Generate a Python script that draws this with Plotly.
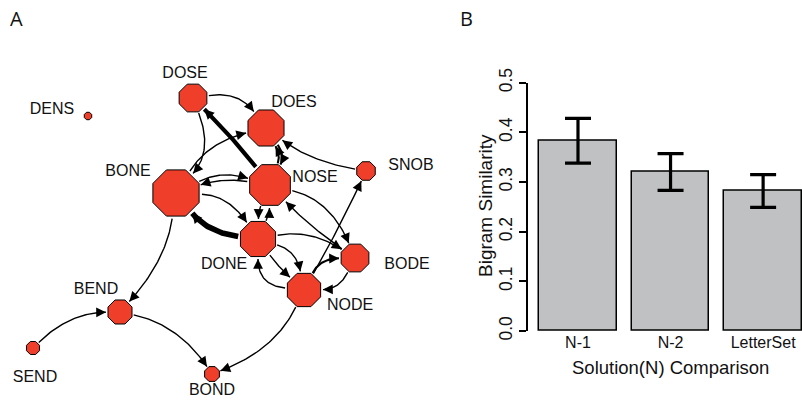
import numpy as np
import plotly.graph_objects as go

# ---------------- Panel A data: network ----------------
node_names = ["DENS", "DOSE", "DOES", "BONE", "NOSE", "SNOB",
              "DONE", "BODE", "NODE", "BEND", "SEND", "BOND"]
node_x = [88, 193, 266, 176, 270, 366, 258, 355, 304, 120, 33, 212]
node_y = [116, 98, 128, 193, 185, 171, 239, 258, 290, 312, 348, 374]
node_r = [4, 15, 19.5, 25, 22, 10, 19, 15, 18, 13, 7, 8]
label_x = [52, 185, 294, 128, 315, 411, 224, 407, 350, 96, 35, 212]
label_y = [110, 74, 103, 172, 178, 166, 265, 265, 306, 290, 378, 391]

edge_src = ["DOSE", "NOSE", "DOSE", "BONE", "BONE", "NOSE", "BONE", "DONE",
            "BONE", "SEND", "BEND", "NODE", "DOES", "NOSE", "SNOB", "NODE",
            "DONE", "NOSE", "NOSE", "BODE", "DONE", "DONE", "NODE", "NODE",
            "BODE", "DONE"]
edge_dst = ["DOES", "DOSE", "BONE", "DOES", "NOSE", "BONE", "DONE", "BONE",
            "BEND", "BEND", "BOND", "BOND", "NOSE", "DOES", "DOES", "SNOB",
            "NOSE", "DONE", "BODE", "NOSE", "BODE", "NODE", "DONE", "BODE",
            "NODE", "NODE"]
edge_curv = [-0.3, 0.03, -0.3, -0.2, -0.2, 0.12, -0.25, -0.2,
             -0.15, -0.2, -0.2, -0.2, -0.3, 0.22, -0.12, 0.02,
             0.1, 0.1, -0.25, -0.05, -0.2, -0.3, -0.45, -0.3,
             -0.3, 0.05]
edge_weight = [1, 3, 1, 1, 1, 1, 1, 4,
               1, 1, 1, 1, 1.5, 1.5, 1, 1,
               1, 1, 1, 1, 1, 1, 1, 1.5,
               1, 1]

# ---------------- Panel B data: bar chart ----------------
categories = ["N-1", "N-2", "LetterSet"]
similarity = [0.383, 0.320, 0.282]
sim_err = [0.045, 0.037, 0.033]

W, H = 802, 407
NODE_RED = "#ef3f2b"
TXT = "#111111"
fig = go.Figure()

idx = {n: i for i, n in enumerate(node_names)}
annotations = []
t = np.linspace(0, 1, 40)
for s, d, c, w in zip(edge_src, edge_dst, edge_curv, edge_weight):
    i, j = idx[s], idx[d]
    p0 = np.array([node_x[i], node_y[i]], float)
    p2 = np.array([node_x[j], node_y[j]], float)
    v = p2 - p0
    L = np.hypot(*v)
    perp = np.array([-v[1], v[0]]) / L
    ctrl = (p0 + p2) / 2 + perp * c * L
    u0 = (ctrl - p0) / np.hypot(*(ctrl - p0))
    u2 = (ctrl - p2) / np.hypot(*(ctrl - p2))
    a = p0 + u0 * (node_r[i] + 1)
    b = p2 + u2 * (node_r[j] + 1)
    pts = ((1 - t) ** 2)[:, None] * a + (2 * (1 - t) * t)[:, None] * ctrl + (t ** 2)[:, None] * b
    fig.add_trace(go.Scatter(x=pts[:, 0], y=pts[:, 1], mode="lines",
                             line=dict(color="black", width=1.4 * w),
                             hoverinfo="skip", xaxis="x", yaxis="y"))
    tan = b - ctrl
    tan = tan / np.hypot(*tan)
    tail = b - tan * 7
    annotations.append(dict(x=b[0], y=b[1], ax=tail[0], ay=tail[1],
                            xref="x", yref="y", axref="x", ayref="y",
                            showarrow=True, arrowhead=2, arrowsize=1.4,
                            arrowwidth=1.4, arrowcolor="black", text=""))

fig.add_trace(go.Scatter(x=node_x, y=node_y, mode="markers",
                         marker=dict(symbol="octagon", size=[2 * r for r in node_r],
                                     color=NODE_RED, opacity=1,
                                     line=dict(color="black", width=1)),
                         hoverinfo="skip", xaxis="x", yaxis="y", cliponaxis=False))
fig.add_trace(go.Scatter(x=label_x, y=label_y, mode="text", text=node_names,
                         textposition="middle center",
                         textfont=dict(family="Liberation Sans, Arial", size=16, color=TXT),
                         hoverinfo="skip", xaxis="x", yaxis="y", cliponaxis=False))

# Bars
fig.add_trace(go.Bar(x=[0, 1, 2], y=similarity, width=0.84,
                     marker=dict(color="#bfc1c3", line=dict(color="black", width=1.5)),
                     error_y=dict(type="data", array=sim_err, color="black",
                                  thickness=3.2, width=13),
                     xaxis="x2", yaxis="y2", hoverinfo="skip"))

y_bot, y_top = 331, 82.7
fig.update_layout(
    width=W, height=H, margin=dict(l=0, r=0, t=0, b=0, autoexpand=False),
    paper_bgcolor="white", plot_bgcolor="white", showlegend=False,
    xaxis=dict(domain=[0, 440 / W], range=[0, 440], visible=False, fixedrange=True,
               automargin=False),
    yaxis=dict(domain=[0, 1], range=[H, 0], visible=False, fixedrange=True,
               automargin=False),
    xaxis2=dict(domain=[528 / W, 1.0], range=[-0.54, 2.42], anchor="y2",
                tickvals=[0, 1, 2], ticktext=categories, showline=False,
                showgrid=False, zeroline=False, ticks="", automargin=False,
                tickfont=dict(family="Liberation Sans, Arial", size=16, color=TXT)),
    yaxis2=dict(domain=[1 - y_bot / H, 1 - y_top / H], range=[0, 0.5], anchor="x2",
                tickvals=[0, 0.1, 0.2, 0.3, 0.4, 0.5],
                ticktext=["0.0", "0.1", "0.2", "0.3", "0.4", "0.5"],
                tickangle=-90, showline=True, linecolor="black", linewidth=1.5,
                ticks="outside", ticklen=7, tickwidth=1.5, tickcolor="black",
                showgrid=False, zeroline=False, automargin=False,
                tickfont=dict(family="Liberation Sans, Arial", size=17.5, color=TXT)),
    bargap=0,
)

annotations += [
    dict(x=16.5 / W, y=1 - 18 / H, xref="paper", yref="paper", text="A", showarrow=False,
         xanchor="center", yanchor="middle",
         font=dict(family="Open Sans", size=20, color=TXT)),
    dict(x=466 / W, y=1 - 18 / H, xref="paper", yref="paper", text="B", showarrow=False,
         xanchor="center", yanchor="middle",
         font=dict(family="Open Sans", size=20, color=TXT)),
    dict(x=485 / W, y=1 - 206 / H, xref="paper", yref="paper", text="Bigram Similarity",
         textangle=-90, showarrow=False, xanchor="center", yanchor="middle",
         font=dict(family="Liberation Sans, Arial", size=19, color=TXT)),
    dict(x=670 / W, y=1 - 367 / H, xref="paper", yref="paper", text="Solution(N) Comparison",
         showarrow=False, xanchor="center", yanchor="middle",
         font=dict(family="Liberation Sans, Arial", size=18.5, color=TXT)),
]
fig.update_layout(annotations=annotations)

fig.write_html("out.html")
